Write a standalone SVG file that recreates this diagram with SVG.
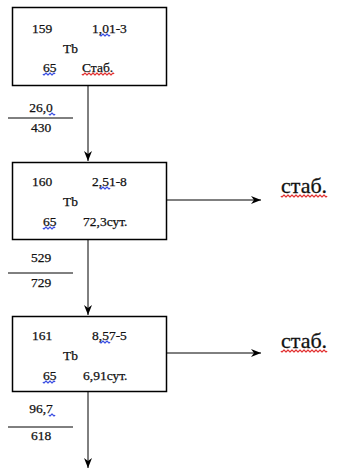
<svg xmlns="http://www.w3.org/2000/svg" width="337" height="470" viewBox="0 0 337 470">
  <defs>
    <marker id="arrow" viewBox="0 0 10 10" refX="10" refY="5" markerWidth="10" markerHeight="10" markerUnits="userSpaceOnUse" orient="auto">
      <path d="M0,1 L10,5 L0,9 L3,5 Z" fill="#000"/>
    </marker>
  </defs>
  <style>
    .box { fill: #fff; stroke: #000; stroke-width: 1.5; }
    .edge { fill: none; stroke: #000; stroke-width: 1; }
    .rule { stroke: #000; stroke-width: 1; }
    text { font-family: "Liberation Serif", "Times New Roman", serif; fill: #111; stroke: #111; stroke-width: 0.25; }
    .t { font-size: 13.5px; }
    .big { font-size: 22px; stroke-width: 0.3; }
    .mid { text-anchor: middle; }
    .wb { fill: none; stroke: #2a3fe0; stroke-width: 1.2; }
    .wr { fill: none; stroke: #e02020; stroke-width: 1.2; }
  </style>

  <rect width="337" height="470" fill="#fff"/>

  <!-- connectors -->
  <g id="connectors">
    <line class="edge" x1="88" y1="86" x2="88" y2="161" marker-end="url(#arrow)"/>
    <line class="edge" x1="88" y1="240" x2="88" y2="315" marker-end="url(#arrow)"/>
    <line class="edge" x1="88" y1="392" x2="88" y2="468" marker-end="url(#arrow)"/>
    <line class="edge" x1="167" y1="200" x2="261" y2="200" marker-end="url(#arrow)"/>
    <line class="edge" x1="167" y1="353" x2="261" y2="353" marker-end="url(#arrow)"/>
  </g>

  <!-- node 159 -->
  <g id="node-159">
    <rect class="box" x="12.5" y="7.5" width="154" height="78"/>
    <text class="t" x="32" y="33">159</text>
    <text class="t" x="92" y="33">1,01-3</text>
    <text class="t" x="63" y="53">Tb</text>
    <text class="t" x="43" y="72">65</text>
    <text class="t" x="82" y="72">Стаб.</text>
    <path class="wb" d="M100,35 q1,2 2,0 t2,0 t2,0 t2,0 t2,0"/>
    <path class="wb" d="M43,74 q1,2 2,0 t2,0 t2,0 t2,0 t2,0 t2,0"/>
    <path class="wr" d="M82,74 q1,2 2,0 t2,0 t2,0 t2,0 t2,0 t2,0 t2,0 t2,0 t2,0 t2,0 t2,0 t2,0 t2,0 t2,0 t2,0 t2,0"/>
  </g>

  <!-- flow label between 159 and 160 -->
  <g id="label-1">
    <text class="t mid" x="41" y="112">26,0</text>
    <line class="rule" x1="8" y1="118" x2="73" y2="118"/>
    <text class="t mid" x="41" y="132">430</text>
    <path class="wb" d="M49,114 q1,2 2,0 t2,0 t2,0"/>
  </g>

  <!-- node 160 -->
  <g id="node-160">
    <rect class="box" x="12.5" y="162.5" width="154" height="77"/>
    <text class="t" x="32" y="186">160</text>
    <text class="t" x="92" y="186">2,51-8</text>
    <text class="t" x="63" y="206">Tb</text>
    <text class="t" x="43" y="226">65</text>
    <text class="t" x="83" y="226">72,3сут.</text>
    <path class="wb" d="M100,188 q1,2 2,0 t2,0 t2,0 t2,0 t2,0"/>
    <path class="wb" d="M43,228 q1,2 2,0 t2,0 t2,0 t2,0 t2,0 t2,0"/>
  </g>

  <g id="label-160-out">
    <text class="big" x="281" y="193">стаб.</text>
    <path class="wr" d="M281,196 q1,2 2,0 t2,0 t2,0 t2,0 t2,0 t2,0 t2,0 t2,0 t2,0 t2,0 t2,0 t2,0 t2,0 t2,0 t2,0 t2,0 t2,0 t2,0 t2,0 t2,0 t2,0 t2,0 t2,0"/>
  </g>

  <!-- flow label between 160 and 161 -->
  <g id="label-2">
    <text class="t mid" x="41" y="262">529</text>
    <line class="rule" x1="8" y1="273" x2="73" y2="273"/>
    <text class="t mid" x="41" y="287">729</text>
  </g>

  <!-- node 161 -->
  <g id="node-161">
    <rect class="box" x="12.5" y="316.5" width="154" height="75"/>
    <text class="t" x="32" y="340">161</text>
    <text class="t" x="92" y="340">8,57-5</text>
    <text class="t" x="63" y="360">Tb</text>
    <text class="t" x="43" y="380">65</text>
    <text class="t" x="83" y="380">6,91сут.</text>
    <path class="wb" d="M100,342 q1,2 2,0 t2,0 t2,0 t2,0 t2,0"/>
    <path class="wb" d="M43,382 q1,2 2,0 t2,0 t2,0 t2,0 t2,0 t2,0"/>
  </g>

  <g id="label-161-out">
    <text class="big" x="281" y="348">стаб.</text>
    <path class="wr" d="M281,351 q1,2 2,0 t2,0 t2,0 t2,0 t2,0 t2,0 t2,0 t2,0 t2,0 t2,0 t2,0 t2,0 t2,0 t2,0 t2,0 t2,0 t2,0 t2,0 t2,0 t2,0 t2,0 t2,0 t2,0"/>
  </g>

  <!-- flow label below 161 -->
  <g id="label-3">
    <text class="t mid" x="41" y="413">96,7</text>
    <line class="rule" x1="8" y1="427" x2="73" y2="427"/>
    <text class="t mid" x="41" y="440">618</text>
    <path class="wb" d="M49,415 q1,2 2,0 t2,0 t2,0"/>
  </g>
</svg>
